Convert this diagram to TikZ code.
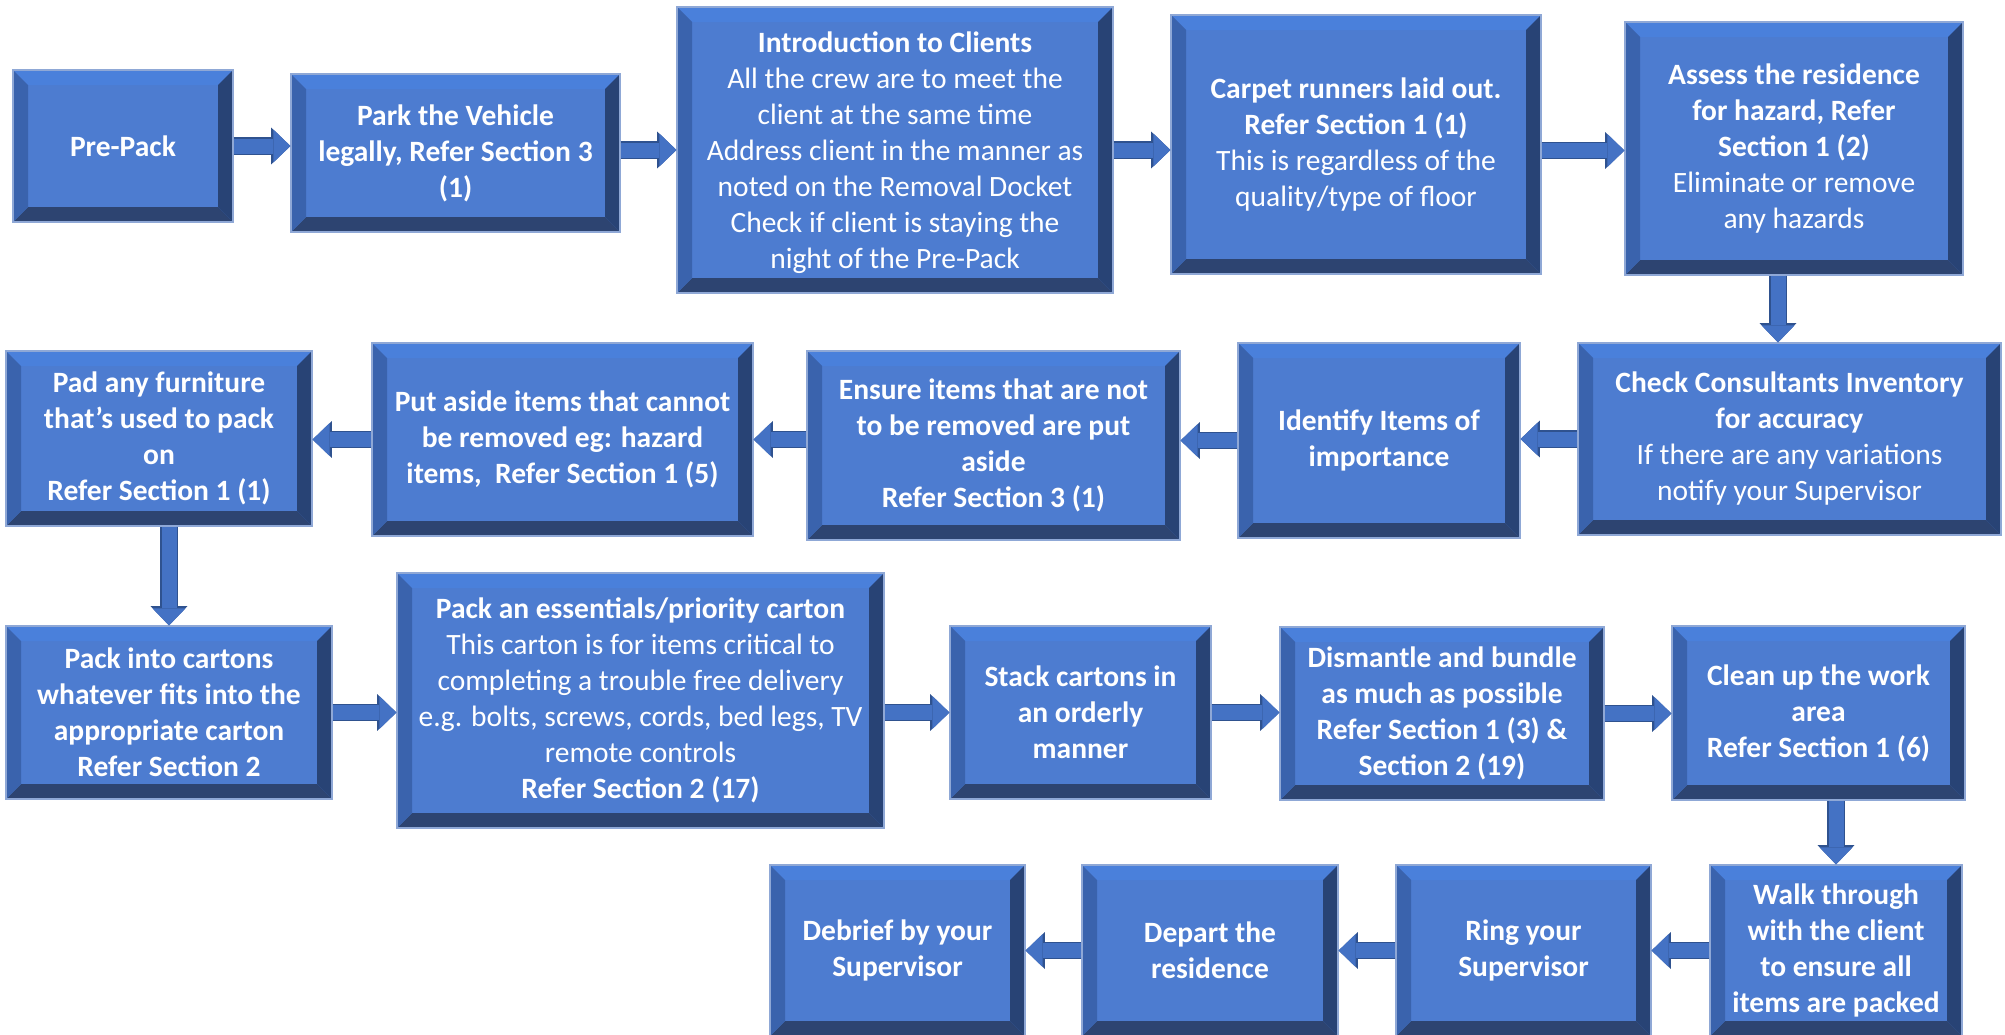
\documentclass[tikz,border=0pt]{standalone}
\usepackage{fontspec}
\setmainfont{Carlito}
\usetikzlibrary{arrows.meta}

\definecolor{facecol}{HTML}{4D7CD0}
\definecolor{bevtopcol}{HTML}{4A80DB}
\definecolor{bevleftcol}{HTML}{3A63AD}
\definecolor{bevrightcol}{HTML}{284375}
\definecolor{bevbotcol}{HTML}{2D4471}
\definecolor{rimcol}{HTML}{8FA8D6}
\definecolor{arrowfill}{HTML}{4472C4}
\definecolor{arrowrim}{HTML}{2F528F}

\newcommand{\bevw}{7.5pt}

\tikzset{
  stepbox/.style={rectangle, fill=facecol, draw=rimcol, line width=0.6pt,
    text=white, align=center, inner sep=0pt,
    font=\fontsize{14.75}{18}\selectfont,
    path picture={
      \path (path picture bounding box.south west) coordinate (bsw)
            (path picture bounding box.north east) coordinate (bne)
            (path picture bounding box.north west) coordinate (bnw)
            (path picture bounding box.south east) coordinate (bse);
      \fill[bevtopcol] (bnw) -- (bne) -- ([xshift=-\bevw,yshift=-\bevw]bne) -- ([xshift=\bevw,yshift=-\bevw]bnw) -- cycle;
      \fill[bevbotcol] (bsw) -- (bse) -- ([xshift=-\bevw,yshift=\bevw]bse) -- ([xshift=\bevw,yshift=\bevw]bsw) -- cycle;
      \fill[bevleftcol] (bnw) -- (bsw) -- ([xshift=\bevw,yshift=\bevw]bsw) -- ([xshift=\bevw,yshift=-\bevw]bnw) -- cycle;
      \fill[bevrightcol] (bne) -- (bse) -- ([xshift=-\bevw,yshift=\bevw]bse) -- ([xshift=-\bevw,yshift=-\bevw]bne) -- cycle;
    }},
  boldstep/.style={stepbox, font=\fontsize{14.75}{18}\selectfont\bfseries},
  flow/.style={draw=arrowfill, line width=7.5pt,
    -{Triangle[length=8.5pt,width=16.5pt,line width=0pt]},
    preaction={draw=arrowrim, line width=8.7pt,
      -{Triangle[length=9.6pt,width=18.4pt,line width=0pt]}}}
}

\begin{document}
\begin{tikzpicture}[x=0.5pt, y=-0.5pt]
\fill[white] (0,0) rectangle (2005,1034);
\useasboundingbox (0,0) rectangle (2005,1034);

% first row
\node[boldstep, minimum width=110pt, minimum height=76pt] (prepack) at (123,146) {Pre-Pack};
\node[boldstep, minimum width=164.5pt, minimum height=79pt] (park) at (455.5,153)
  {Park the Vehicle\\legally, Refer Section 3\\(1)};
\node[stepbox, minimum width=218pt, minimum height=143pt, text depth=-5pt] (intro) at (895,150)
  {\textbf{Introduction to Clients}\\All the crew are to meet the\\client at the same time\\Address client in the manner as\\noted on the Removal Docket\\Check if client is staying the\\night of the Pre-Pack};
\node[stepbox, minimum width=185pt, minimum height=129.5pt] (carpet) at (1356,144.5)
  {\textbf{Carpet runners laid out.}\\\textbf{Refer Section 1 (1)}\\This is regardless of the\\quality/type of floor};
\node[stepbox, minimum width=169pt, minimum height=126.5pt] (assess) at (1794,148.5)
  {\textbf{Assess the residence}\\\textbf{for hazard, Refer}\\\textbf{Section 1 (2)}\\Eliminate or remove\\any hazards};

% second row, right to left
\node[stepbox, minimum width=211.5pt, minimum height=96pt] (check) at (1789.5,439)
  {\textbf{Check Consultants Inventory}\\\textbf{for accuracy}\\If there are any variations\\notify your Supervisor};
\node[boldstep, minimum width=141pt, minimum height=97.5pt] (identify) at (1379,440.5)
  {Identify Items of\\importance};
\node[boldstep, minimum width=186.5pt, minimum height=94.5pt] (ensure) at (993.5,445.5)
  {Ensure items that are not\\to be removed are put\\aside\\Refer Section 3 (1)};
\node[boldstep, minimum width=190.5pt, minimum height=96.5pt] (putaside) at (562.5,439.5)
  {Put aside items that cannot\\be removed eg: hazard\\items,\ \ Refer Section 1 (5)};
\node[boldstep, minimum width=153pt, minimum height=87.5pt] (pad) at (159,438.5)
  {Pad any furniture\\that’s used to pack\\on\\Refer Section 1 (1)};

% third row
\node[boldstep, minimum width=163pt, minimum height=86.5pt] (packinto) at (169,712.5)
  {Pack into cartons\\whatever fits into the\\appropriate carton\\Refer Section 2};
\node[stepbox, minimum width=243.5pt, minimum height=127.5pt] (essentials) at (640.5,700.5)
  {\textbf{Pack an essentials/priority carton}\\This carton is for items critical to\\completing a trouble free delivery\\e.g. bolts, screws, cords, bed legs, TV\\remote controls\\\textbf{Refer Section 2 (17)}};
\node[boldstep, minimum width=130.5pt, minimum height=86.5pt] (stack) at (1080.5,712.5)
  {Stack cartons in\\an orderly\\manner};
\node[boldstep, minimum width=162pt, minimum height=86.5pt] (dismantle) at (1442,713.5)
  {Dismantle and bundle\\as much as possible\hspace{2.6em}\\Refer Section 1 (3) \&\hspace{0.8em}\\Section 2 (19)\hspace{0.8em}};
\node[boldstep, minimum width=146.5pt, minimum height=87pt] (clean) at (1818.5,713)
  {Clean up the work\\area\\Refer Section 1 (6)};

% last row, right to left
\node[boldstep, minimum width=126pt, minimum height=85.5pt] (walk) at (1836,950.5)
  {Walk through\\with the client\\to ensure all\\items are packed};
\node[boldstep, minimum width=127.5pt, minimum height=85.5pt] (ring) at (1523.5,950.5)
  {Ring your\\Supervisor};
\node[boldstep, minimum width=128pt, minimum height=85.5pt] (depart) at (1210,950.5)
  {Depart the\\residence};
\node[boldstep, minimum width=127.5pt, minimum height=85.5pt] (debrief) at (897.5,950.5)
  {Debrief by your\\Supervisor};

% arrows
\draw[flow] (prepack.east) -- (prepack.east -| park.west);
\draw[flow] (park.east |- intro.west) -- (intro.west);
\draw[flow] (intro.east) -- (intro.east -| carpet.west);
\draw[flow] ([yshift=-3pt]carpet.east) -- ([yshift=-3pt]carpet.east -| assess.west);
\draw[flow] ([xshift=-8pt]assess.south) -- ([xshift=-8pt]assess.south |- check.north);

\draw[flow] (check.west) -- (check.west -| identify.east);
\draw[flow] (identify.west) -- (identify.west -| ensure.east);
\draw[flow] (ensure.west |- putaside.east) -- (putaside.east);
\draw[flow] (putaside.west) -- (putaside.west -| pad.east);
\draw[flow] (pad.south -| packinto.north) -- (packinto.north);

\draw[flow] (packinto.east) -- (packinto.east -| essentials.west);
\draw[flow] (essentials.east |- stack.west) -- (stack.west);
\draw[flow] (stack.east) -- (stack.east -| dismantle.west);
\draw[flow] (dismantle.east) -- (dismantle.east -| clean.west);
\draw[flow] (clean.south -| walk.north) -- (walk.north);

\draw[flow] (walk.west) -- (walk.west -| ring.east);
\draw[flow] (ring.west) -- (ring.west -| depart.east);
\draw[flow] (depart.west) -- (depart.west -| debrief.east);
\end{tikzpicture}
\end{document}
